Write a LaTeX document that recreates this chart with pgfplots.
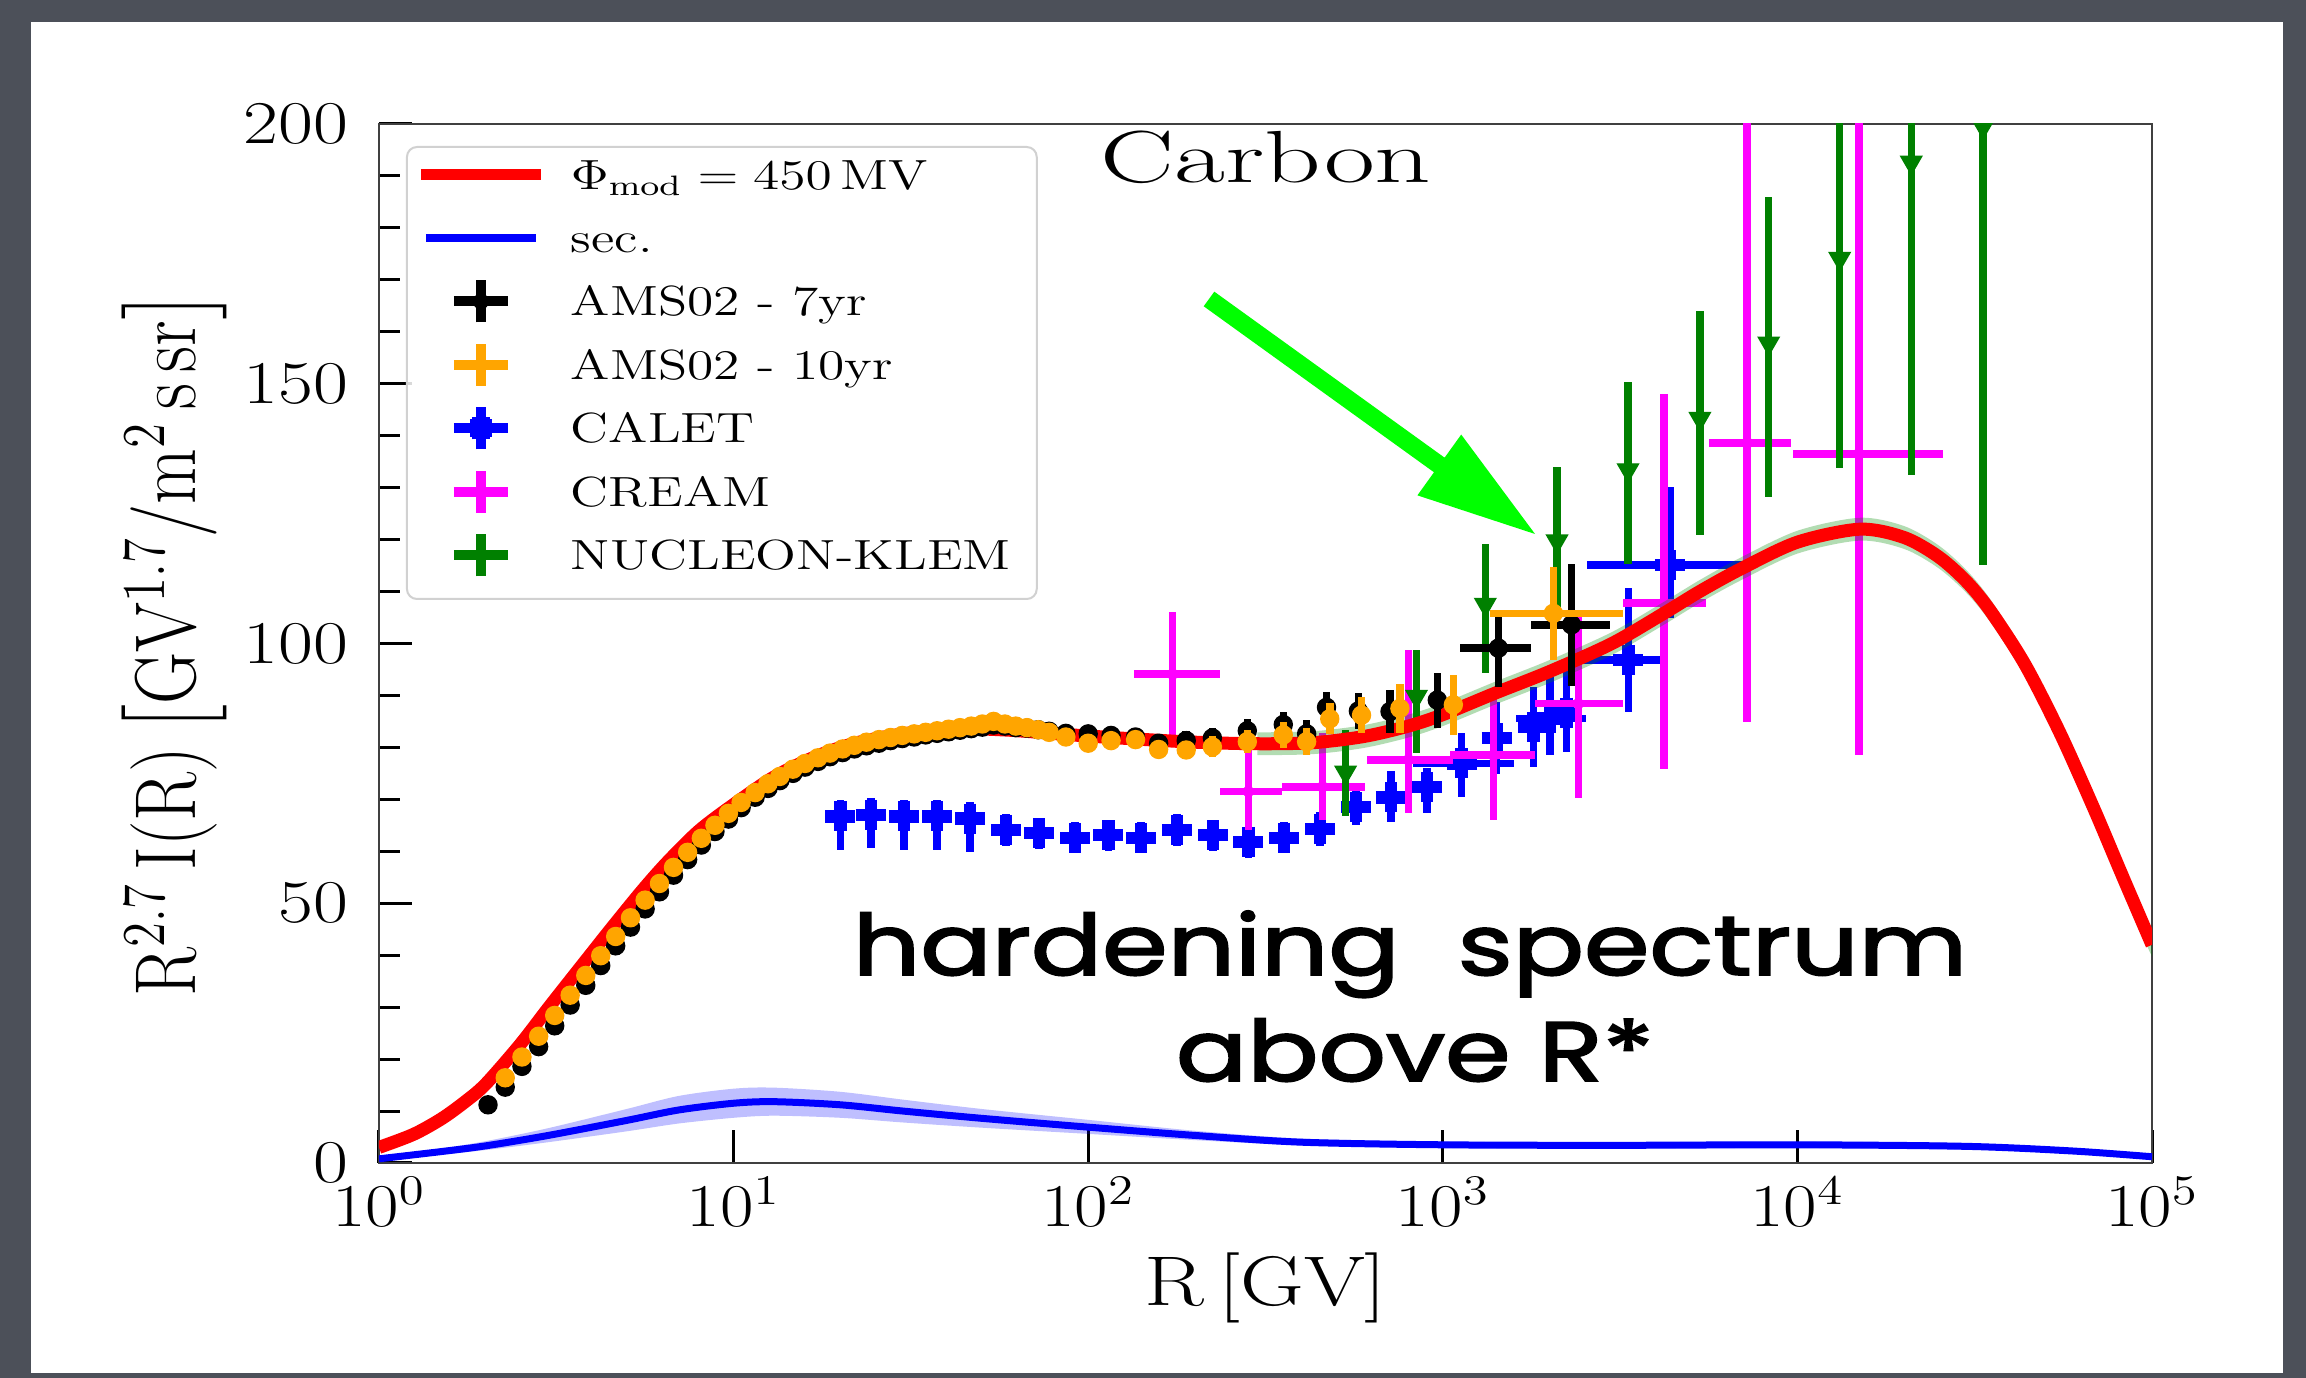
\documentclass[border=0pt]{standalone}
\usepackage{amsmath}
\usepackage{graphicx}
\usepackage{fontspec}
\usepackage{pgfplots}
\pgfplotsset{compat=1.18}
\usepackage{pgfplotstable}

\newfontfamily\handfont{Poppins}[FakeBold=2]
\newcommand\wide[1]{\scalebox{1.27}[1]{#1}}

\definecolor{slide}{RGB}{76,80,89}
\definecolor{mplorange}{RGB}{255,165,0}
\definecolor{mplgreen}{RGB}{0,128,0}
\definecolor{mplmagenta}{RGB}{255,0,255}
\definecolor{arrowgreen}{RGB}{0,255,0}

% propagated flux, Phi_mod = 450 MV
\pgfplotstableread{
R       v
1       3.0
1.25    5.5
1.5     8.5
1.75    11.8
2       15.2
2.5     22.8
3       29.8
3.5     35.6
4       40.6
4.5     45.0
5.5     52.3
6.5     57.9
8       64.0
10      69.0
13      74.3
17      78.2
22      80.8
30      82.6
42      83.6
60      83.3
90      82.4
130     81.7
200     81.0
300     80.7
430     80.9
600     82.1
800     84.1
1000    86.3
1400    90.4
2000    94.6
3000    100.0
4200    105.8
5300    110.0
6900    114.3
10000   119.5
15000   122.0
20000   120.4
25000   116.7
30000   111.9
35000   106.3
43800   96.0
55000   82.8
68600   68.2
82000   55.7
100000  42.0
}\modeltab

% outline of the uncertainty band of the propagated flux (upper edge, then lower edge back)
\pgfplotstableread{
R       b
300     82.9
430     83.1
600     84.3
800     86.3
1000    88.5
1400    92.6
2000    96.8
3000    102.2
4200    108.0
5300    112.2
6900    116.5
10000   121.7
15000   124.2
20000   122.6
25000   118.9
30000   114.1
35000   108.5
43800   98.2
55000   85.0
68600   70.4
82000   57.9
100000  44.2
100000  39.8
82000   53.5
68600   66.0
55000   80.6
43800   93.8
35000   104.1
30000   109.7
25000   114.5
20000   118.2
15000   119.8
10000   117.3
6900    112.1
5300    107.8
4200    103.6
3000    97.8
2000    92.4
1400    88.2
1000    84.1
800     81.9
600     79.9
430     78.7
300     78.5
}\modelband

% secondary component
\pgfplotstableread{
R       v
1       0.8
1.5     2.2
2       3.3
3       5.3
5       8.2
7       10.2
10      11.5
13      11.8
20      11.2
30      10.0
50      8.6
100     6.9
200     5.3
400     4.0
1000    3.5
3000    3.4
10000   3.5
30000   3.2
60000   2.3
100000  1.2
}\sectab

% outline of the band of the secondary component
\pgfplotstableread{
R       b
1       1.1
1.5     2.8
2       4.2
3       6.7
5       10.4
7       12.9
10      14.3
13      14.5
20      13.7
30      12.2
50      10.4
100     8.3
200     6.2
400     4.7
1000    4.1
3000    4.0
10000   4.1
30000   3.8
60000   2.8
100000  1.6
100000  0.8
60000   1.8
30000   2.6
10000   2.9
3000    2.8
1000    2.9
400     3.4
200     4.4
100     5.6
50      6.8
30      7.8
20      8.7
13      9.1
10      8.7
7       7.6
5       6.1
3       4.0
2       2.5
1.5     1.6
1       0.5
}\secband

% AMS-02, 7 years
\pgfplotstableread{
R     v      ey    exm   exp
2.03  11.2   0.3   0     0
2.27  14.6   0.3   0     0
2.53  18.6   0.3   0     0
2.82  22.4   0.3   0     0
3.13  26.4   0.3   0     0
3.46  30.4   0.3   0     0
3.83  34.2   0.3   0     0
4.22  38.0   0.3   0     0
4.65  41.8   0.3   0     0
5.12  45.4   0.3   0     0
5.63  48.9   0.4   0     0
6.18  52.2   0.4   0     0
6.77  55.4   0.4   0     0
7.42  58.4   0.4   0     0
8.11  61.2   0.4   0     0
8.86  63.8   0.4   0     0
9.67  66.2   0.4   0     0
10.5  68.4   0.5   0     0
11.5  70.4   0.5   0     0
12.5  72.1   0.5   0     0
13.5  73.6   0.5   0     0
14.7  75.0   0.5   0     0
15.9  76.2   0.5   0     0
17.3  77.3   0.5   0     0
18.7  78.2   0.5   0     0
20.3  79.0   0.6   0     0
21.9  79.7   0.6   0     0
23.7  80.3   0.6   0     0
25.7  80.8   0.6   0     0
27.7  81.3   0.6   0     0
29.9  81.7   0.7   0     0
32.3  82.0   0.7   0     0
34.8  82.4   0.7   0     0
37.5  82.7   0.7   0     0
40.4  83.0   0.8   0     0
43.5  83.3   0.8   0     0
46.8  83.6   0.8   0     0
50.3  83.9   0.9   0     0
54.1  84.3   0.9   0     0
58.2  84.1   0.9   0     0
62.5  83.8   1.0   0     0
67.2  83.7   1.0   0     0
72.3  83.4   1.0   0     0
77.6  83.1   1.1   0     0
86.5  82.7   1.2   0     0
100   82.6   1.3   0     0
116   82.3   1.4   0     0
136   82.0   1.5   0     0
158   80.8   1.6   0     0
189   81.3   1.8   0     0
224   81.8   2.0   0     0
281   83.2   2.2   0     0
355   84.4   2.5   0     0
413   82.6   2.6   0     0
470   87.7   3.0   0     0
578   87.0   3.5   0     0
710   86.9   4.2   0     0
965   89.1   5.3   0     0
1435  99.1   7.4   317   339
2307  103.6  11.7  533   661
}\amsseven

% AMS-02, 10 years
\pgfplotstableread{
R     v      ey    exm   exp
2.27  16.4   0.3   0     0
2.53  20.4   0.3   0     0
2.82  24.4   0.3   0     0
3.13  28.4   0.3   0     0
3.46  32.3   0.3   0     0
3.83  36.1   0.3   0     0
4.22  39.9   0.3   0     0
4.65  43.6   0.3   0     0
5.12  47.2   0.3   0     0
5.63  50.6   0.4   0     0
6.18  53.8   0.4   0     0
6.77  56.9   0.4   0     0
7.42  59.8   0.4   0     0
8.11  62.5   0.4   0     0
8.86  65.0   0.4   0     0
9.67  67.3   0.4   0     0
10.5  69.4   0.5   0     0
11.5  71.3   0.5   0     0
12.5  73.0   0.5   0     0
13.5  74.4   0.5   0     0
14.7  75.8   0.5   0     0
15.9  76.9   0.5   0     0
17.3  78.0   0.5   0     0
18.7  78.9   0.5   0     0
20.3  79.7   0.6   0     0
21.9  80.4   0.6   0     0
23.7  81.0   0.6   0     0
25.7  81.5   0.6   0     0
27.7  81.9   0.6   0     0
29.9  82.3   0.7   0     0
32.3  82.6   0.7   0     0
34.8  82.9   0.7   0     0
37.5  83.2   0.7   0     0
40.4  83.5   0.8   0     0
43.5  83.8   0.8   0     0
46.8  84.1   0.8   0     0
50.3  84.5   0.9   0     0
54.1  85.0   0.9   0     0
58.2  84.5   0.9   0     0
62.5  84.1   1.0   0     0
67.2  83.8   1.0   0     0
72.3  83.4   1.0   0     0
77.6  82.9   1.1   0     0
86.5  82.0   1.2   0     0
100   80.8   1.3   0     0
116   81.3   1.4   0     0
136   81.5   1.5   0     0
158   79.6   1.6   0     0
189   79.5   1.8   0     0
224   80.1   2.0   0     0
281   81.1   2.2   0     0
355   82.4   2.5   0     0
413   81.1   2.6   0     0
480   85.5   3.0   0     0
590   86.2   3.5   0     0
757   87.5   4.7   0     0
1071  88.2   5.8   0     0
2050  105.8  8.9   695   1176
}\amsten

% CALET
\pgfplotstableread{
R      v      eym   eyp   exm   exp
20.0   66.7   6.4   3.2   0     0
24.4   67.0   6.4   3.2   0     0
30.2   66.7   6.4   3.2   0     0
37.5   66.7   6.4   3.2   0     0
46.4   66.3   6.4   3.2   0     0
58.6   64.1   3.0   3.0   0     0
72.6   63.5   3.0   3.0   0     0
91.8   62.6   3.0   3.0   0     0
114    63.1   3.0   3.0   0     0
141    62.6   3.0   3.0   0     0
178    64.1   3.0   3.0   0     0
225    63.1   3.0   3.0   0     0
283    61.8   3.0   3.0   0     0
357    62.6   3.0   3.0   0     0
451    64.3   3.2   3.2   0     0
569    68.5   3.5   3.5   0     0
714    70.4   4.8   5.0   0     0
903    72.4   5.0   3.6   0     0
1130   76.9   6.4   5.9   306   455
1419   81.8   7.0   7.0   0     0
1800   84.0   7.8   7.7   0     0
2005   85.6   7.1   9.9   395   535
2234   86.7   7.5   8.2   0     0
3337   96.8   9.9   13.9  847   973
4370   115.1  10.1  15.1  1820  2650
}\calet

% CREAM
\pgfplotstableread{
R      v      eym   eyp   exm   exp
173    94.1   12.0  12.0  38    63
283    71.5   7.4   8.4   47    68
458    72.4   6.4   10.3  107   147
800    77.6   10.3  21.1  189   266
1390   78.5   12.5  11.9  340   430
2410   88.4   18.2  18.0  590   815
4200   107.8  31.9  40.3  980   1330
7220   138.6  53.8  70.0  1600  2360
14900  136.5  58.0  70.0  5170  10860
}\cream

% NUCLEON-KLEM
\pgfplotstableread{
R      v      eym   eyp
532    75.2   8.4   8.1
843    89.8   10.9  8.9
1318   107.5  13.2  11.7
2100   119.7  12.6  14.3
3330   133.4  18.1  16.9
5310   143.3  22.4  20.7
8300   157.8  29.7  28.1
13160  174.1  40.4  40.0
20950  192.6  60.2  40.0
33400  199.5  84.3  30.0
}\nucleon

\begin{document}
\begin{tikzpicture}
% slide background and white card
\fill[slide] (0,0) rectangle (230.6mm,137.8mm);
\fill[white] (3.1mm,0.5mm) rectangle (228.3mm,135.6mm);

\begin{axis}[
  at={(37.9mm,21.5mm)}, anchor=south west,
  scale only axis, width=177.3mm, height=103.9mm,
  xmode=log, log basis x=10, xmin=1, xmax=1e5,
  ymin=0, ymax=200,
  xtick={1,10,100,1000,10000,100000},
  ytick={0,50,100,150,200}, minor y tick num=4,
  xtick pos=left, ytick pos=left, tick align=inside,
  major tick length=3.3mm, minor tick length=2.1mm,
  tick style={black, line width=0.3mm},
  axis line style={black!75, line width=0.2mm},
  clip marker paths=true,
  tick label style={font=\fontsize{17}{20}\selectfont},
  xticklabel style={anchor=north, inner sep=0pt, yshift=-1.4mm, xscale=1.2},
  yticklabel style={anchor=east, inner sep=0pt, xshift=-3mm, xscale=1.25},
  every axis x label/.style={at={(axis description cs:0.5,-0.1376)}, anchor=base,
    font=\fontsize{20}{24}\selectfont, xscale=1.25},
  every axis y label/.style={at={(axis description cs:-0.1156,0.5)}, anchor=center,
    font=\fontsize{20.5}{24}\selectfont, rotate=90, yscale=1.2},
  xlabel={R\,[GV]},
  ylabel={R$^{2.7}$\,I(R)\,$\big[$GV$^{1.7}$/m$^{2}$\,s\,sr$\big]$},
  legend cell align=left,
  legend style={
    at={(axis description cs:0.0152,0.9788)}, anchor=north west,
    draw=black!18, line width=0.2mm, rounded corners=1mm,
    fill=white, fill opacity=0.85, draw opacity=1, text opacity=1,
    inner xsep=1.4mm, inner ysep=1.3mm,
    row sep=3.45mm, column sep=3.0mm,
    font=\fontsize{12}{14}\selectfont,
    nodes={inner sep=0pt, text height=2.9mm, text depth=0mm},
  },
]

% legend entries
\addlegendimage{legend image code/.code={\path[draw=none, fill=none] (0,-1.45mm) rectangle (12mm,1.45mm);
  \draw[overlay, red, line width=1.1mm, rounded corners=0pt] (0,0) -- (12mm,0);}}
\addlegendentry{\wide{$\Phi_{\mathrm{mod}}=450\,\mathrm{MV}$}}
\addlegendimage{legend image code/.code={\path[draw=none, fill=none] (0,-1.45mm) rectangle (12mm,1.45mm);
  \draw[overlay, blue, line width=0.8mm, rounded corners=0pt] (0.5mm,0) -- (11.5mm,0);}}
\addlegendentry{\wide{sec.}}
\addlegendimage{legend image code/.code={\path[draw=none, fill=none] (0,-1.45mm) rectangle (12mm,1.45mm);
  \draw[overlay, black, line width=1mm, rounded corners=0pt] (3.3mm,0) -- (8.7mm,0) (6mm,-2.1mm) -- (6mm,2.1mm);
  \fill[overlay, black, fill opacity=1] (6mm,0) circle (0.7mm);}}
\addlegendentry{\wide{AMS02 - 7yr}}
\addlegendimage{legend image code/.code={\path[draw=none, fill=none] (0,-1.45mm) rectangle (12mm,1.45mm);
  \draw[overlay, mplorange, line width=1mm, rounded corners=0pt] (3.3mm,0) -- (8.7mm,0) (6mm,-2.1mm) -- (6mm,2.1mm);}}
\addlegendentry{\wide{AMS02 - 10yr}}
\addlegendimage{legend image code/.code={\path[draw=none, fill=none] (0,-1.45mm) rectangle (12mm,1.45mm);
  \draw[overlay, blue, line width=1mm, rounded corners=0pt] (3.3mm,0) -- (8.7mm,0) (6mm,-2.1mm) -- (6mm,2.1mm);
  \draw[overlay, blue, line width=1.8mm, rounded corners=0pt] (4.9mm,0) -- (7.1mm,0) (6mm,-1.1mm) -- (6mm,1.1mm);}}
\addlegendentry{\wide{CALET}}
\addlegendimage{legend image code/.code={\path[draw=none, fill=none] (0,-1.45mm) rectangle (12mm,1.45mm);
  \draw[overlay, mplmagenta, line width=1mm, rounded corners=0pt] (3.3mm,0) -- (8.7mm,0) (6mm,-2.1mm) -- (6mm,2.1mm);}}
\addlegendentry{\wide{CREAM}}
\addlegendimage{legend image code/.code={\path[draw=none, fill=none] (0,-3.05mm) rectangle (12mm,1.45mm);
  \draw[overlay, mplgreen, line width=1mm, rounded corners=0pt] (3.3mm,0) -- (8.7mm,0) (6mm,-2.1mm) -- (6mm,2.1mm);}}
\addlegendentry{\wide{NUCLEON-KLEM}\hspace*{1.2mm}}

% CALET
\addplot[forget plot, only marks, blue, mark=+, mark size=1.5mm,
  mark options={line width=1.25mm, line cap=butt},
  error bars/.cd, y dir=both, y explicit, x dir=both, x explicit, error mark=none,
  error bar style={line width=0.75mm, line cap=butt, blue}]
  table[x=R, y=v, y error minus=eym, y error plus=eyp, x error minus=exm, x error plus=exp] {\calet};

% CREAM
\addplot[forget plot, only marks, mplmagenta, mark=*, mark size=0.5mm,
  error bars/.cd, y dir=both, y explicit, x dir=both, x explicit, error mark=none,
  error bar style={line width=0.75mm, line cap=butt, mplmagenta}]
  table[x=R, y=v, y error minus=eym, y error plus=eyp, x error minus=exm, x error plus=exp] {\cream};

% NUCLEON-KLEM
\addplot[forget plot, only marks, mplgreen, mark=triangle*, mark size=1.2mm,
  mark options={rotate=180},
  error bars/.cd, y dir=both, y explicit, error mark=none,
  error bar style={line width=0.75mm, line cap=butt, mplgreen}]
  table[x=R, y=v, y error minus=eym, y error plus=eyp] {\nucleon};

% propagated flux with its band
\addplot[forget plot, draw=none, fill=green!55!black, fill opacity=0.3, smooth]
  table[x=R, y=b] {\modelband} -- cycle;
\addplot[forget plot, red, line width=1.3mm, smooth] table[x=R, y=v] {\modeltab};

% secondary component with its band
\addplot[forget plot, draw=none, fill=blue, fill opacity=0.25, smooth]
  table[x=R, y=b] {\secband} -- cycle;
\addplot[forget plot, blue, line width=0.7mm, smooth] table[x=R, y=v] {\sectab};

% AMS-02
\addplot[forget plot, only marks, black, mark=*, mark size=0.9mm,
  error bars/.cd, y dir=both, y explicit, x dir=both, x explicit, error mark=none,
  error bar style={line width=0.75mm, line cap=butt, black}]
  table[x=R, y=v, y error=ey, x error minus=exm, x error plus=exp] {\amsseven};
\addplot[forget plot, only marks, mplorange, mark=*, mark size=0.9mm,
  error bars/.cd, y dir=both, y explicit, x dir=both, x explicit, error mark=none,
  error bar style={line width=0.75mm, line cap=butt, mplorange}]
  table[x=R, y=v, y error=ey, x error minus=exm, x error plus=exp] {\amsten};
\end{axis}

% title inside the frame
\node[anchor=base, font=\fontsize{21}{25}\selectfont, xscale=1.5] at (126.6mm,119.5mm) {Carbon};

% hand-written remark
\node[anchor=base, font=\handfont\fontsize{24}{28}\selectfont, xscale=1.25] at (141.0mm,40.3mm) {hardening\hspace{0.55em}spectrum};
\node[anchor=base, font=\handfont\fontsize{24}{28}\selectfont, xscale=1.25] at (141.5mm,29.7mm) {above R*};

% pointer to the break
\fill[arrowgreen] (121.43mm,108.63mm) -- (144.46mm,92.03mm) -- (146.12mm,94.34mm)
  -- (153.5mm,84.4mm) -- (141.74mm,88.26mm) -- (143.40mm,90.57mm)
  -- (120.37mm,107.17mm) -- cycle;
\end{tikzpicture}
\end{document}
